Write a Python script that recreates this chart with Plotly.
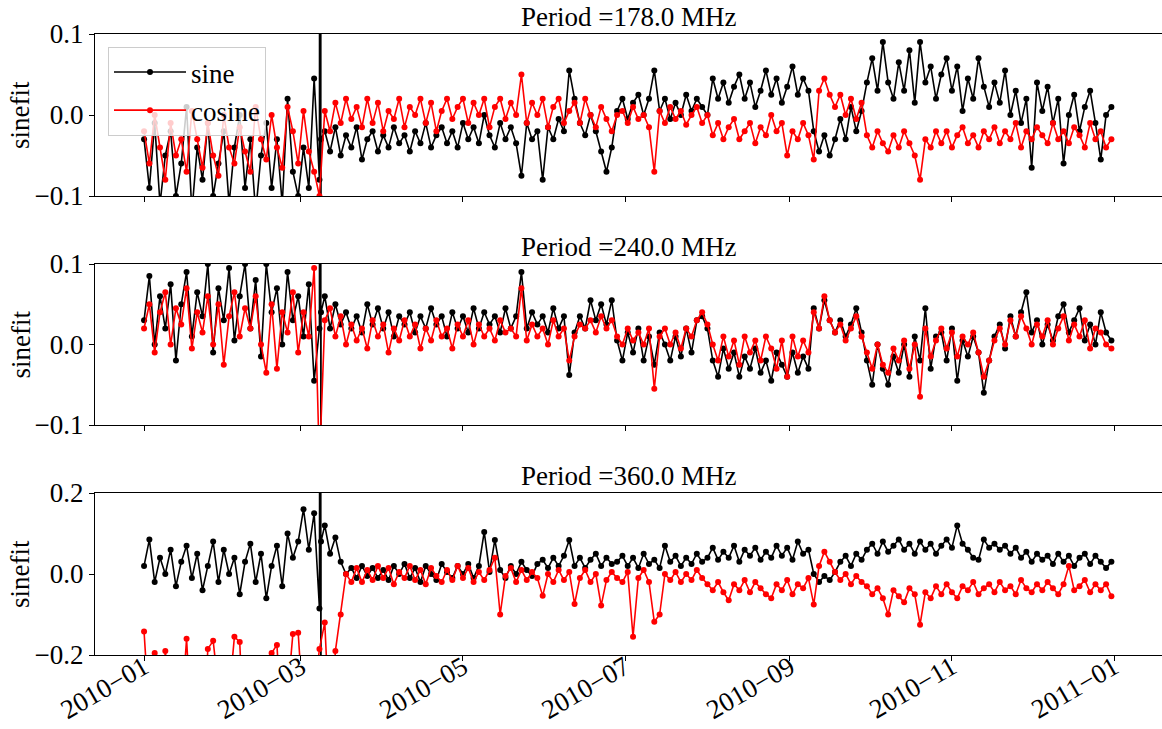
import pandas as pd
import plotly.graph_objects as go
from plotly.subplots import make_subplots

# ---------------- data: values every 2 days from 2010-01-01 ----------------
start_date = "2010-01-01"
step = "2D"

sine_178 = [
    -0.03, -0.09, -0.01, -0.11, -0.05, -0.02, -0.10, -0.06, 0.01, -0.12,
    -0.04, -0.08, -0.01, -0.10, -0.06, -0.02, -0.11, -0.04, 0.0, -0.09,
    -0.03, -0.12, -0.05, -0.01, -0.09, -0.03, -0.11, 0.02, -0.07, -0.10,
    -0.04, -0.09, 0.045, -0.08, -0.02, -0.045, -0.015, -0.05, -0.025, -0.04,
    -0.015, -0.055, -0.03, -0.02, -0.045, -0.025, -0.04, -0.015, -0.035, -0.025,
    -0.045, -0.02, -0.035, -0.01, -0.04, -0.025, -0.015, -0.035, -0.02, -0.04,
    -0.01, -0.03, -0.015, -0.035, 0.0, -0.025, -0.04, -0.01, -0.03, -0.015,
    -0.035, -0.075, -0.01, -0.03, -0.02, -0.08, -0.015, -0.03, -0.005, -0.02,
    0.055, 0.02, -0.01, -0.025, 0.0, -0.02, -0.045, -0.07, -0.04, 0.005,
    0.02, -0.005, 0.015, 0.025, 0.0, 0.02, 0.055, 0.005, 0.02, -0.005,
    0.015, 0.0, 0.025, 0.005, 0.02, 0.01, 0.0, 0.045, 0.02, 0.04,
    0.015, 0.035, 0.05, 0.02, 0.04, 0.01, 0.03, 0.055, 0.025, 0.045,
    0.015, 0.035, 0.06, 0.025, 0.045, 0.03, -0.02, -0.045, -0.025, -0.05,
    -0.03, -0.005, -0.03, 0.01, -0.02, 0.005, 0.04, 0.07, 0.03, 0.09,
    0.04, 0.02, 0.065, 0.03, 0.08, 0.015, 0.09, 0.04, 0.06, 0.02,
    0.05, 0.07, 0.03, 0.06, 0.005, 0.045, 0.02, 0.07, 0.035, 0.01,
    0.04, 0.015, 0.055, 0.0, 0.03, -0.01, 0.02, -0.065, 0.04, 0.005,
    0.035, -0.01, 0.02, -0.06, 0.0, 0.025, -0.02, 0.01, 0.03, -0.01,
    -0.055, 0.0, 0.01,
]
cosine_178 = [
    -0.02, -0.06, 0.0, -0.04, -0.08, -0.01, -0.05, -0.03, -0.07, 0.005,
    -0.03, -0.065, -0.01, -0.05, -0.075, 0.0, -0.04, -0.06, -0.015, -0.045,
    -0.07, 0.01, -0.03, -0.055, 0.0, -0.04, -0.065, 0.01, -0.02, -0.06,
    0.005, -0.045, -0.07, -0.1, 0.005, -0.02, 0.015, -0.01, 0.02, -0.005,
    0.01, -0.015, 0.02, -0.01, 0.015, -0.02, 0.005, -0.005, 0.02, -0.015,
    0.01, 0.0, 0.02, -0.01, 0.015, -0.02, 0.005, 0.02, -0.005, 0.01,
    0.02, -0.01, 0.015, 0.0, 0.02, -0.015, 0.01, 0.02, -0.005, 0.015,
    0.0, 0.05, -0.01, 0.015, 0.0, 0.02, -0.015, 0.01, 0.02, -0.01,
    0.005, 0.015, -0.01, 0.02, 0.0, -0.015, 0.01, -0.005, -0.02, 0.0,
    0.005, -0.01, 0.01, -0.005, 0.0, -0.015, -0.07, 0.005, -0.01, 0.01,
    -0.005, 0.005, -0.012, 0.0, 0.01, -0.01, 0.0, -0.025, -0.01, -0.03,
    -0.015, -0.005, -0.03, -0.02, -0.01, -0.035, -0.015, -0.025, 0.0, -0.02,
    -0.01, -0.05, -0.02, -0.03, -0.01, -0.025, -0.055, 0.03, 0.045, 0.025,
    0.01, 0.025, 0.0, 0.02, -0.005, 0.015, -0.025, -0.04, -0.02, -0.035,
    -0.045, -0.025, -0.04, -0.02, -0.035, -0.05, -0.08, -0.03, -0.04, -0.02,
    -0.035, -0.02, -0.04, -0.025, -0.015, -0.035, -0.025, -0.04, -0.02, -0.03,
    -0.015, -0.035, -0.02, -0.03, -0.01, -0.04, -0.02, -0.03, -0.015, -0.025,
    -0.035, -0.01, -0.03, -0.02, -0.035, -0.015, -0.025, -0.04, -0.01, -0.03,
    -0.02, -0.04, -0.03,
]

sine_240 = [
    0.03, 0.085, 0.0, 0.06, 0.02, 0.075, -0.02, 0.05, 0.09, 0.01,
    0.065, 0.035, 0.1, -0.01, 0.07, 0.03, 0.095, 0.005, 0.06, 0.1,
    0.02, 0.08, -0.015, 0.1, 0.04, 0.07, 0.0, 0.09, 0.03, 0.06,
    0.01, 0.075, -0.045, 0.02, 0.06, 0.02, 0.05, 0.025, 0.04, 0.02,
    0.035, 0.015, 0.05, 0.025, 0.045, 0.02, 0.04, 0.01, 0.035, 0.025,
    0.04, 0.015, 0.035, 0.02, 0.045, 0.025, 0.035, 0.01, 0.04, 0.02,
    0.035, 0.015, 0.045, 0.02, 0.04, 0.025, 0.035, 0.015, 0.045, 0.02,
    0.035, 0.09, 0.02, 0.04, 0.025, 0.035, 0.015, 0.045, 0.02, 0.035,
    -0.038, 0.015, 0.035, 0.02, 0.055, 0.03, 0.05, 0.025, 0.055, 0.005,
    -0.02, 0.015, -0.01, 0.02, -0.02, 0.01, -0.025, 0.015, 0.0, -0.02,
    0.01, -0.015, 0.02, -0.01, 0.03, 0.035, 0.02, -0.02, -0.04, -0.005,
    -0.03, -0.01, -0.04, -0.015, -0.03, -0.005, -0.035, -0.02, -0.045, -0.01,
    -0.025, -0.04, -0.01, -0.035, -0.015, -0.03, 0.045, 0.02, 0.055, 0.03,
    0.015, 0.03, 0.01, 0.025, 0.045, 0.015, -0.02, -0.05, 0.0, -0.03,
    -0.05, -0.015, -0.035, 0.0, -0.04, 0.01, -0.02, 0.045, -0.03, 0.01,
    0.015, -0.02, 0.02, -0.045, 0.005, -0.015, 0.01, -0.01, -0.06, -0.02,
    0.01, 0.025, -0.005, 0.035, 0.01, 0.04, 0.065, 0.015, 0.03, 0.0,
    0.025, 0.005, 0.035, 0.05, 0.015, 0.03, 0.045, 0.005, 0.025, 0.0,
    0.04, 0.015, 0.005,
]
cosine_240 = [
    0.02, 0.05, -0.01, 0.04, 0.065, 0.0, 0.045, 0.025, 0.07, -0.005,
    0.04, 0.015, 0.06, 0.0, 0.05, -0.025, 0.035, 0.065, 0.01, 0.045,
    0.02, 0.06, 0.0, -0.035, 0.05, -0.03, 0.04, 0.015, 0.065, -0.01,
    0.04, 0.01, 0.095, -0.15, 0.03, 0.045, 0.01, 0.035, 0.0, 0.025,
    0.005, 0.02, -0.005, 0.03, 0.01, 0.025, -0.01, 0.02, 0.005, 0.03,
    0.01, 0.025, -0.005, 0.02, 0.005, 0.03, 0.01, 0.02, -0.005, 0.025,
    0.01, 0.03, 0.0, 0.025, 0.01, 0.02, 0.005, 0.03, 0.015, 0.02,
    0.01, 0.07, 0.005, 0.025, 0.01, 0.02, 0.0, 0.03, 0.01, 0.02,
    -0.02, 0.01, 0.025, 0.02, 0.03, 0.015, 0.035, 0.02, 0.03, 0.01,
    0.0, 0.02, 0.005, 0.015, 0.0, 0.02, -0.055, 0.01, 0.02, 0.0,
    0.015, -0.005, 0.02, 0.01, 0.03, 0.04, 0.025, 0.0, -0.02, 0.01,
    -0.015, 0.005, -0.025, 0.01, -0.01, 0.005, -0.02, 0.01, -0.005, -0.03,
    0.005, -0.04, 0.01, -0.015, 0.005, -0.01, 0.04, 0.02, 0.06, 0.03,
    0.015, 0.025, 0.005, 0.02, 0.035, 0.01, -0.01, -0.03, 0.0, -0.025,
    -0.035, -0.005, -0.02, 0.005, -0.03, 0.0, -0.065, 0.02, -0.015, 0.005,
    0.02, -0.005, 0.015, -0.015, 0.01, 0.0, 0.015, -0.01, -0.04, -0.02,
    0.005, 0.02, 0.0, 0.03, 0.01, 0.035, 0.02, 0.0, 0.025, 0.01,
    0.03, 0.0, 0.02, 0.035, 0.005, 0.025, 0.01, 0.03, -0.005, 0.02,
    0.015, 0.0, -0.005,
]

sine_360 = [
    0.02, 0.085, -0.02, 0.04, 0.0, 0.06, -0.03, 0.03, 0.07, -0.01,
    0.05, -0.04, 0.02, 0.08, -0.02, 0.06, 0.0, 0.04, -0.05, 0.03,
    0.075, -0.02, 0.05, -0.06, 0.02, 0.07, -0.03, 0.1, 0.04, 0.08,
    0.16, 0.06, 0.15, -0.085, 0.12, 0.05, 0.09, 0.03, 0.0, 0.015,
    -0.01, 0.02, -0.005, 0.015, -0.01, 0.01, -0.015, 0.02, 0.0, 0.025,
    -0.01, 0.015, -0.02, 0.02, 0.0, -0.015, 0.025, 0.005, -0.01, 0.02,
    0.0, 0.025, -0.01, 0.02, 0.104, 0.005, 0.084, 0.01, -0.01, 0.02,
    0.0, 0.03, 0.01, -0.005, 0.025, 0.035, 0.015, 0.04, 0.02, 0.045,
    0.084, 0.02, 0.04, 0.015, 0.035, 0.05, 0.02, 0.04, 0.025, 0.03,
    0.045, 0.02, 0.04, 0.015, 0.05, 0.025, 0.035, 0.015, 0.07, 0.03,
    0.045, 0.02, 0.04, 0.025, 0.05, 0.03, 0.04, 0.065, 0.035, 0.055,
    0.04, 0.07, 0.03, 0.06, 0.045, 0.065, 0.035, 0.055, 0.04, 0.07,
    0.045, 0.065, 0.035, 0.08, 0.05, 0.06, 0.0, -0.02, -0.005, -0.015,
    0.005, 0.03, 0.045, 0.02, 0.05, 0.035, 0.06, 0.075, 0.05, 0.08,
    0.055, 0.07, 0.085, 0.06, 0.075, 0.05, 0.08, 0.06, 0.075, 0.05,
    0.07, 0.085, 0.065, 0.12, 0.075, 0.06, 0.04, 0.035, 0.085, 0.065,
    0.075, 0.06, 0.07, 0.05, 0.065, 0.04, 0.055, 0.03, 0.05, 0.035,
    0.045, 0.025, 0.05, 0.03, 0.045, 0.02, 0.04, 0.05, 0.025, 0.045,
    0.03, 0.015, 0.03,
]
cosine_360 = [
    -0.142, -0.35, -0.195, -0.4, -0.19, -0.3, -0.45, -0.35, -0.16, -0.4,
    -0.3, -0.45, -0.185, -0.165, -0.35, -0.4, -0.3, -0.155, -0.168, -0.45,
    -0.35, -0.4, -0.3, -0.45, -0.195, -0.175, -0.4, -0.3, -0.148, -0.145,
    -0.35, -0.45, -0.3, -0.185, -0.12, -0.4, -0.19, -0.1, 0.0, -0.02,
    0.015, -0.02, 0.01, -0.015, 0.02, -0.01, 0.015, -0.025, 0.005, -0.01,
    0.02, -0.015, 0.01, -0.025, 0.015, -0.005, -0.02, 0.01, -0.015, 0.02,
    -0.01, 0.015, -0.02, 0.005, -0.015, 0.01, 0.04, -0.1, -0.005, 0.015,
    -0.02, 0.01, -0.015, 0.005, -0.01, -0.054, 0.0, -0.02, 0.01, -0.015,
    0.005, -0.074, -0.01, 0.01, -0.02, 0.0, -0.078, -0.015, 0.005, -0.01,
    -0.02, 0.005, -0.155, -0.01, 0.01, -0.02, -0.118, -0.1, 0.0, -0.015,
    0.005, -0.02, 0.0, -0.015, 0.01, -0.01, -0.025, -0.04, -0.02, -0.045,
    -0.065, -0.025, -0.04, -0.015, -0.045, -0.02, -0.035, -0.05, -0.06, -0.025,
    -0.04, -0.015, -0.05, -0.025, -0.035, -0.01, -0.075, 0.02, 0.055, 0.03,
    0.005, -0.015, 0.0, -0.025, -0.005, -0.02, -0.03, -0.05, -0.035, -0.06,
    -0.1, -0.04, -0.055, -0.07, -0.035, -0.05, -0.125, -0.045, -0.06, -0.03,
    -0.05, -0.025, -0.045, -0.06, -0.03, -0.04, -0.02, -0.05, -0.035, -0.025,
    -0.045, -0.02, -0.04, -0.03, -0.05, -0.015, -0.035, -0.045, -0.025, -0.04,
    -0.02, -0.035, -0.05, -0.025, 0.02, -0.04, -0.03, -0.015, -0.045, -0.025,
    -0.04, -0.025, -0.055,
]

# single outage glitch on 2010-03-08 seen in all sine series (values run off both ends)
glitch_times = ["2010-03-08 12:00", "2010-03-08 12:30", "2010-03-08 14:00"]
glitch_sine_178 = [3.0, -3.0, -0.03]
glitch_sine_240 = [3.0, -3.0, 0.04]
glitch_sine_360 = [3.0, -3.0, 0.08]

period_labels = ["178.0", "240.0", "360.0"]
series_names = ["sine", "cosine"]
series_colors = ["black", "red"]
y_ranges = [[-0.1, 0.1], [-0.1, 0.1], [-0.2, 0.2]]
y_tickvals = [[-0.1, 0.0, 0.1], [-0.1, 0.0, 0.1], [-0.2, 0.0, 0.2]]
y_ticktext = [["\u22120.1", "0.0", "0.1"], ["\u22120.1", "0.0", "0.1"], ["\u22120.2", "0.0", "0.2"]]
x_tick_dates = ["2010-01-01", "2010-03-01", "2010-05-01", "2010-07-01",
                "2010-09-01", "2010-11-01", "2011-01-01"]
x_tick_labels = ["2010\u221201", "2010\u221203", "2010\u221205", "2010\u221207",
                 "2010\u221209", "2010\u221211", "2011\u221201"]
x_range = ["2009-12-13 13:00", "2011-01-19 01:00"]

panels = [
    (sine_178, glitch_sine_178, cosine_178),
    (sine_240, glitch_sine_240, cosine_240),
    (sine_360, glitch_sine_360, cosine_360),
]


def regular(vals):
    return pd.Series(vals, index=pd.date_range(start_date, periods=len(vals), freq=step))


def with_glitch(vals, glitch_vals):
    s = pd.concat([regular(vals), pd.Series(glitch_vals, index=pd.to_datetime(glitch_times))])
    return s.sort_index()


# ---------------- figure ----------------
W, H = 1162, 729
ML, MR, MT, MB = 95, 0, 34, 74
plot_h = H - MT - MB


def py(px):  # pixel row -> paper y
    return (H - MB - px) / plot_h


domains = [[py(196), py(34)], [py(425), py(264)], [py(655), py(493)]]

FONT = "Liberation Serif"
FS = 27
fig = make_subplots(rows=3, cols=1, shared_xaxes=True, vertical_spacing=0.05)

for r, (s, g, c) in enumerate(panels, start=1):
    for name, color, ser in zip(series_names, series_colors, (with_glitch(s, g), regular(c))):
        fig.add_trace(go.Scatter(
            x=ser.index, y=ser.values, mode="lines+markers", name=name,
            line=dict(color=color, width=1.6),
            marker=dict(color=color, size=6),
            showlegend=(r == 1),
        ), row=r, col=1)

for i in range(3):
    r = i + 1
    fig.update_yaxes(row=r, col=1, domain=domains[i], range=y_ranges[i],
                     tickvals=y_tickvals[i], ticktext=y_ticktext[i],
                     ticks="outside", ticklen=5, tickwidth=1, tickcolor="black",
                     showline=True, linecolor="black", linewidth=1, mirror=False,
                     showgrid=False, zeroline=False, automargin=False,
                     tickfont=dict(family=FONT, size=FS, color="black"))
    fig.update_xaxes(row=r, col=1, range=x_range, type="date",
                     tickvals=x_tick_dates, ticktext=x_tick_labels,
                     ticks="outside", ticklen=5, tickwidth=1, tickcolor="black",
                     showline=True, linecolor="black", linewidth=1, mirror=True,
                     showgrid=False, zeroline=False, automargin=False,
                     showticklabels=(r == 3), tickangle=-30, ticklabelstandoff=-20,
                     tickfont=dict(family=FONT, size=FS, color="black"))
    fig.add_annotation(text="Period =" + period_labels[i] + " MHz",
                       xref="paper", yref="paper", x=0.5, y=domains[i][1],
                       xanchor="center", yanchor="bottom", yshift=0, showarrow=False,
                       font=dict(family=FONT, size=FS, color="black"))
    fig.add_annotation(text="sinefit", textangle=-90,
                       xref="paper", yref="paper", x=(20 - ML) / (W - ML - MR),
                       y=(domains[i][0] + domains[i][1]) / 2,
                       xanchor="center", yanchor="middle", showarrow=False,
                       font=dict(family=FONT, size=FS, color="black"))

fig.update_layout(
    width=W, height=H,
    margin=dict(l=ML, r=MR, t=MT, b=MB),
    paper_bgcolor="white", plot_bgcolor="white",
    font=dict(family=FONT, size=FS, color="black"),
    legend=dict(x=(108 - ML) / (W - ML - MR), y=py(47), xanchor="left", yanchor="top",
                bgcolor="rgba(255,255,255,0.8)", bordercolor="#cccccc", borderwidth=1,
                font=dict(family=FONT, size=FS, color="black"),
                itemwidth=72),
)

fig.write_html("out.html")
